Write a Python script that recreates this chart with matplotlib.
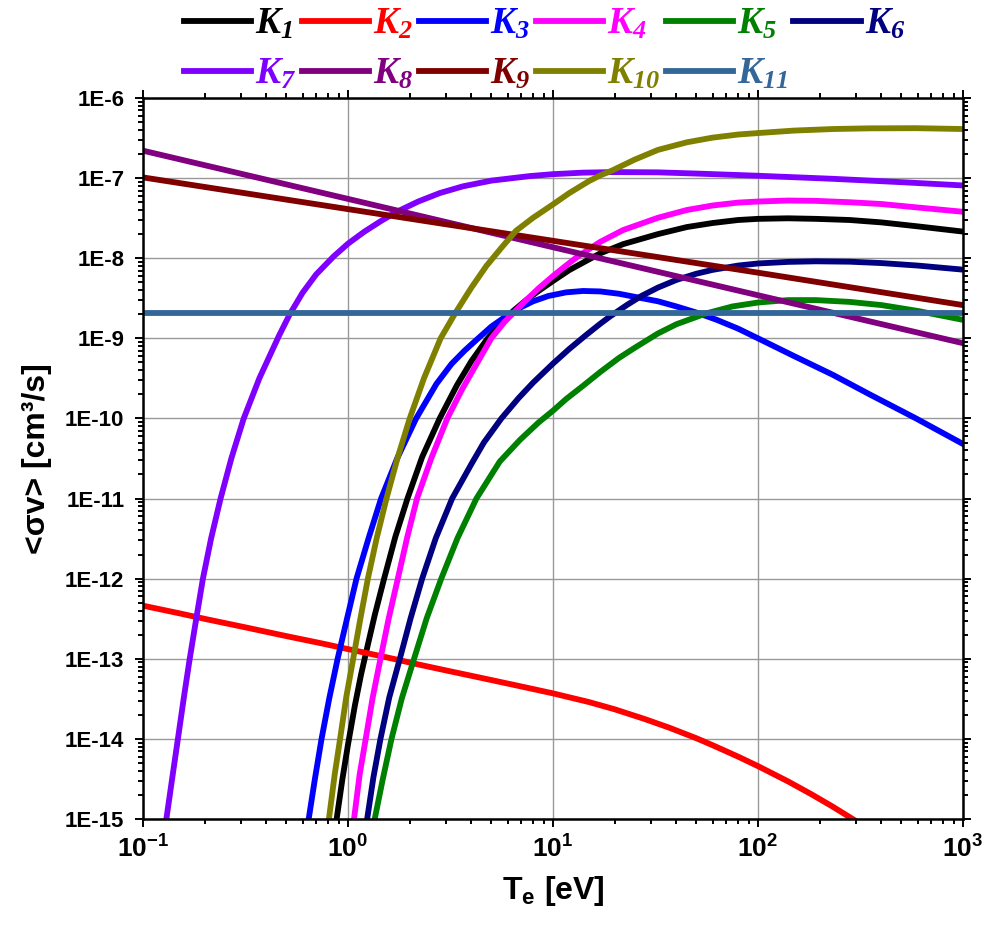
import matplotlib
matplotlib.use('Agg')
import matplotlib.pyplot as plt
from matplotlib.ticker import LogLocator, NullFormatter

plt.rcParams['font.family'] = ['Liberation Sans', 'DejaVu Sans']
plt.rcParams['font.weight'] = 'bold'
plt.rcParams['mathtext.fontset'] = 'custom'
plt.rcParams['mathtext.rm'] = 'Liberation Serif:bold:italic'
plt.rcParams['mathtext.it'] = 'Liberation Serif:bold:italic'
plt.rcParams['mathtext.bf'] = 'Liberation Sans:bold'

# rate coefficients <sigma v> [cm^3/s] vs electron temperature Te [eV]
t_k1 = [0.88, 0.94, 1.0, 1.08, 1.16, 1.25, 1.35, 1.5, 1.7, 1.95, 2.3, 2.8, 3.4, 4.0, 4.8, 5.6, 6.4, 7.4,
        8.5, 10, 12, 14, 17, 22, 32.5, 45, 60, 80, 100, 140, 192, 280, 400, 600, 1000]
k1 = [1e-15, 3.2e-15, 8.5e-15, 2.6e-14, 6.5e-14, 1.5e-13, 3.5e-13, 1.0e-12, 3.3e-12, 1.0e-11, 3.3e-11,
      1.0e-10, 2.6e-10, 5.2e-10, 1.0e-9, 1.55e-9, 2.2e-9, 3.0e-9, 3.9e-9, 5.2e-9, 7.1e-9, 8.8e-9,
      1.15e-8, 1.5e-8, 2.0e-8, 2.45e-8, 2.75e-8, 3.0e-8, 3.1e-8, 3.15e-8, 3.1e-8, 3.0e-8, 2.8e-8,
      2.5e-8, 2.15e-8]

t_k2 = [0.1, 0.15, 0.2, 0.32, 0.5, 0.75, 1.0, 1.5, 2.2, 3.05, 4.5, 6.5, 10, 15, 20, 28, 36.9, 50, 60,
        80, 100, 140, 182, 230, 286, 320]
k2 = [4.6e-13, 3.7e-13, 3.15e-13, 2.45e-13, 1.92e-13, 1.55e-13, 1.32e-13, 1.06e-13, 8.5e-14, 7.1e-14,
      5.75e-14, 4.7e-14, 3.7e-14, 2.88e-14, 2.34e-14, 1.77e-14, 1.38e-14, 1.02e-14, 8.35e-15, 6.0e-15,
      4.57e-15, 2.95e-15, 2.04e-15, 1.44e-15, 1.02e-15, 8.5e-16]

t_k3 = [0.643, 0.69, 0.743, 0.81, 0.89, 0.99, 1.1, 1.26, 1.45, 1.74, 2.15, 2.7, 3.2, 3.7, 4.2, 5.0,
        6.1, 7.0, 8.0, 9.5, 11.6, 14, 17, 21, 25, 32.5, 40, 50, 63, 80, 100, 150, 232, 350, 590, 1000]
k3 = [1e-15, 3.2e-15, 1e-14, 3.2e-14, 1e-13, 3.2e-13, 1e-12, 3.2e-12, 1e-11, 3.2e-11, 1e-10, 2.7e-10,
      4.8e-10, 7.0e-10, 9.4e-10, 1.4e-9, 2.0e-9, 2.45e-9, 2.9e-9, 3.38e-9, 3.75e-9, 3.9e-9, 3.85e-9,
      3.6e-9, 3.3e-9, 2.9e-9, 2.5e-9, 2.1e-9, 1.7e-9, 1.32e-9, 1.0e-9, 6.0e-10, 3.5e-10, 2.0e-10,
      1.0e-10, 4.8e-11]

t_k4 = [1.07, 1.14, 1.22, 1.32, 1.44, 1.58, 1.75, 1.94, 2.17, 2.55, 3.05, 3.6, 4.2, 5.0, 5.8, 6.5, 7.4,
        8.5, 10, 11.5, 13, 15, 17, 22, 32.5, 45, 60, 80, 100, 140, 192, 280, 400, 600, 1000]
k4 = [1e-15, 3.6e-15, 1e-14, 3.3e-14, 1e-13, 3.2e-13, 1e-12, 3.2e-12, 1e-11, 3.2e-11, 1e-10, 2.3e-10,
      4.6e-10, 1e-9, 1.6e-9, 2.15e-9, 3.0e-9, 4.2e-9, 6.0e-9, 8.0e-9, 1.02e-8, 1.3e-8, 1.6e-8,
      2.25e-8, 3.2e-8, 4.0e-8, 4.55e-8, 4.95e-8, 5.1e-8, 5.25e-8, 5.2e-8, 5.0e-8, 4.75e-8, 4.3e-8,
      3.8e-8]

t_k5 = [1.35, 1.48, 1.63, 1.83, 2.1, 2.42, 2.85, 3.42, 4.23, 5.5, 6.9, 8.5, 10, 11.6, 14, 17, 21, 25,
        32.5, 40, 56, 75, 100, 140, 192, 280, 400, 600, 1000]
k5 = [1e-15, 3.2e-15, 1e-14, 3.2e-14, 1e-13, 3.2e-13, 1e-12, 3.2e-12, 1e-11, 2.9e-11, 5.4e-11,
      8.9e-11, 1.25e-10, 1.75e-10, 2.55e-10, 3.8e-10, 5.7e-10, 7.6e-10, 1.15e-9, 1.5e-9, 2.05e-9,
      2.5e-9, 2.8e-9, 3.0e-9, 3.0e-9, 2.85e-9, 2.6e-9, 2.2e-9, 1.7e-9]

t_k6 = [1.24, 1.33, 1.44, 1.59, 1.79, 2.02, 2.3, 2.68, 3.22, 4.0, 4.6, 5.6, 6.8, 8, 10, 12, 14.5, 17,
        19, 23, 27, 32.5, 40, 50, 60, 80, 100, 140, 192, 280, 400, 600, 1000]
k6 = [1e-15, 3.3e-15, 1e-14, 3.3e-14, 1e-13, 3.2e-13, 1e-12, 3.2e-12, 1e-11, 2.7e-11, 5e-11, 1e-10,
      1.8e-10, 2.8e-10, 4.84e-10, 7.36e-10, 1.1e-9, 1.52e-9, 1.88e-9, 2.62e-9, 3.38e-9, 4.3e-9,
      5.36e-9, 6.4e-9, 7.15e-9, 8.1e-9, 8.6e-9, 9.0e-9, 9.15e-9, 9.05e-9, 8.7e-9, 8.1e-9, 7.2e-9]

t_k7 = [0.130, 0.139, 0.148, 0.158, 0.169, 0.182, 0.196, 0.215, 0.239, 0.27, 0.31, 0.37, 0.46, 0.52,
        0.6, 0.7, 0.85, 1.0, 1.2, 1.45, 1.73, 2.2, 2.8, 3.64, 5.0, 7.7, 10, 14, 20, 32.5, 50, 100, 232,
        500, 1000]
k7 = [1e-15, 3.3e-15, 1e-14, 3.2e-14, 1e-13, 3.2e-13, 1e-12, 3.2e-12, 1e-11, 3.2e-11, 1e-10, 3.2e-10,
      1.07e-9, 2.0e-9, 3.7e-9, 6.3e-9, 1.05e-8, 1.52e-8, 2.14e-8, 2.92e-8, 3.8e-8, 5.1e-8, 6.5e-8,
      7.9e-8, 9.3e-8, 1.06e-7, 1.12e-7, 1.17e-7, 1.19e-7, 1.18e-7, 1.14e-7, 1.07e-7, 9.8e-8, 8.9e-8,
      8.1e-8]

t_k8 = [0.1, 1, 10, 100, 1000]
k8 = [2.2e-7, 5.5e-8, 1.37e-8, 3.45e-9, 8.7e-10]

t_k9 = [0.1, 1, 10, 100, 1000]
k9 = [1.02e-7, 4.1e-8, 1.65e-8, 6.6e-9, 2.6e-9]

t_k10 = [0.807, 0.86, 0.915, 0.98, 1.06, 1.15, 1.25, 1.38, 1.54, 1.75, 2.0, 2.35, 2.83, 3.35, 4.0,
         4.73, 5.6, 6.6, 8, 10, 12, 15, 17, 19.5, 25, 32.5, 45, 60, 80, 100, 150, 232, 350, 590, 1000]
k10 = [1e-15, 3.5e-15, 1e-14, 3.3e-14, 1e-13, 3.2e-13, 1e-12, 3.2e-12, 1e-11, 3.3e-11, 1e-10,
       3.2e-10, 1e-9, 2.1e-9, 4.3e-9, 8.0e-9, 1.35e-8, 2.2e-8, 3.2e-8, 4.7e-8, 6.5e-8, 9.2e-8,
       1.08e-7, 1.25e-7, 1.7e-7, 2.25e-7, 2.8e-7, 3.2e-7, 3.5e-7, 3.65e-7, 3.92e-7, 4.1e-7, 4.18e-7,
       4.2e-7, 4.1e-7]

t_k11 = [0.1, 1000]
k11 = [2.1e-9, 2.1e-9]

series = [
    (t_k1, k1, 'black', '$K_{1}$'),
    (t_k2, k2, '#FF0000', '$K_{2}$'),
    (t_k3, k3, '#0000FF', '$K_{3}$'),
    (t_k4, k4, '#FF00FF', '$K_{4}$'),
    (t_k5, k5, '#008000', '$K_{5}$'),
    (t_k6, k6, '#000080', '$K_{6}$'),
    (t_k7, k7, '#8000FF', '$K_{7}$'),
    (t_k8, k8, '#800080', '$K_{8}$'),
    (t_k9, k9, '#800000', '$K_{9}$'),
    (t_k10, k10, '#808000', '$K_{10}$'),
    (t_k11, k11, '#336699', '$K_{11}$'),
]

fig = plt.figure(figsize=(9.88, 9.32), dpi=100)
ax = fig.add_axes([143 / 988, 1 - 819 / 932, 820 / 988, 721 / 932])

lines = []
for t, k, c, lab in series:
    ln, = ax.plot(t, k, color=c, lw=4.2, label=lab, solid_joinstyle='round')
    lines.append(ln)

ax.set_xscale('log')
ax.set_yscale('log')
ax.set_xlim(0.1, 1000)
ax.set_ylim(1e-15, 1e-6)

yt = [10.0 ** -e for e in range(15, 5, -1)]
ax.set_yticks(yt, ['1E-%d' % e for e in range(15, 5, -1)])
xt = [0.1, 1, 10, 100, 1000]
ax.set_xticks(xt, [r'$\mathbf{10^{-1}}$', r'$\mathbf{10^{0}}$', r'$\mathbf{10^{1}}$',
                   r'$\mathbf{10^{2}}$', r'$\mathbf{10^{3}}$'])
ax.xaxis.set_minor_locator(LogLocator(base=10, subs=range(2, 10), numticks=20))
ax.yaxis.set_minor_locator(LogLocator(base=10, subs=range(2, 10), numticks=20))
ax.xaxis.set_minor_formatter(NullFormatter())
ax.yaxis.set_minor_formatter(NullFormatter())

ax.tick_params(which='both', direction='out', top=True, right=True, width=1.4)
ax.tick_params(which='major', length=6)
ax.tick_params(which='minor', length=3.5)
ax.tick_params(axis='y', labelsize=16, pad=7.5)
ax.tick_params(axis='x', labelsize=19, pad=6)
for sp in ax.spines.values():
    sp.set_linewidth(1.8)

ax.grid(True, which='major', color='#999999', lw=1.0)
ax.set_axisbelow(True)

ax.set_xlabel(r'$\mathbf{T_{e}}$ [eV]', fontsize=23, fontweight='bold', labelpad=8)
ax.set_ylabel('<σv> [cm³/s]', fontsize=23, fontweight='bold', labelpad=9)

order = [0, 6, 1, 7, 2, 8, 3, 9, 4, 10, 5]
leg = fig.legend([lines[i] for i in order], [series[i][3] for i in order],
                 ncol=6, loc='upper left', bbox_to_anchor=(180 / 988, 1 - 2 / 932),
                 frameon=False, fontsize=27, handlelength=1.8, handletextpad=0.1,
                 columnspacing=0.15, labelspacing=0.38, borderpad=0.1, borderaxespad=0)
for txt, i in zip(leg.get_texts(), order):
    txt.set_color(series[i][2])

fig.savefig('out.png', dpi=100)
